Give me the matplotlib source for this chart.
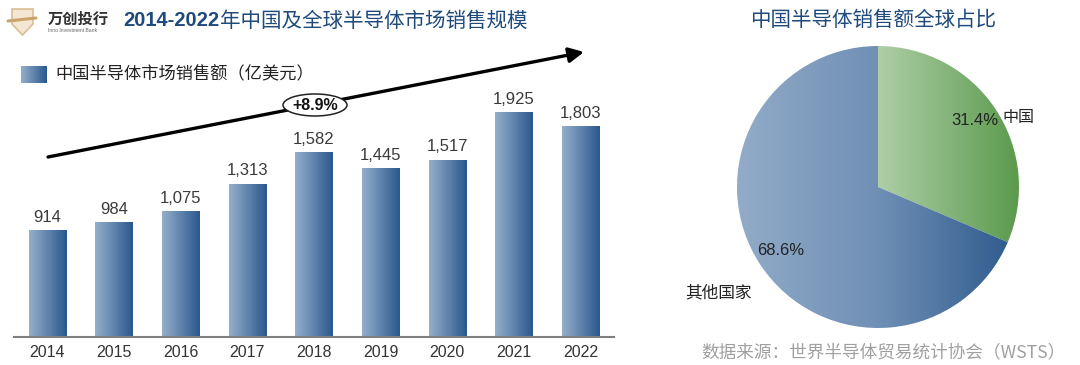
import numpy as np
import matplotlib
matplotlib.use("Agg")
import matplotlib.pyplot as plt
from matplotlib.colors import LinearSegmentedColormap
from matplotlib.patches import Ellipse, FancyArrowPatch, Polygon, Rectangle

# ---------------- data ----------------
years = ["2014", "2015", "2016", "2017", "2018", "2019", "2020", "2021", "2022"]
sales = [914, 984, 1075, 1313, 1582, 1445, 1517, 1925, 1803]
series_name = "中国半导体市场销售额（亿美元）"
cagr_label = "+8.9%"
pie_labels = ["中国", "其他国家"]
pie_shares = [31.4, 68.6]
title_num = "2014-2022"
title_cjk = "年中国及全球半导体市场销售规模"
pie_title = "中国半导体销售额全球占比"
source_text = "数据来源：世界半导体贸易统计协会（WSTS）"

CJK = ["Noto Sans CJK SC", "DejaVu Sans"]
NUM = ["Liberation Sans", "DejaVu Sans"]
TITLE_BLUE = "#1F4A7C"

W, H = 1080, 365
fig = plt.figure(figsize=(W / 100, H / 100), dpi=100)
fig.patch.set_facecolor("white")


def fr(x0, y0, x1, y1):
    """pixel box (top-left origin) -> figure fraction [l, b, w, h]"""
    return [x0 / W, 1 - y1 / H, (x1 - x0) / W, (y1 - y0) / H]


blue_cmap = LinearSegmentedColormap.from_list("b", ["#95AFCC", "#2A588D"])
pie_blue = LinearSegmentedColormap.from_list("pb", ["#92ABC8", "#6F8FB5", "#2C598C"])
pie_green = LinearSegmentedColormap.from_list("pg", ["#AECFA7", "#5B9A4D"])
grad = np.linspace(0, 1, 256).reshape(1, -1)

# ---------------- bar chart ----------------
ax = fig.add_axes(fr(14, 45, 614, 337))
x = np.arange(len(years))
bars = ax.bar(x, sales, width=0.56, facecolor="none", edgecolor="none", zorder=2)
for rect in bars:
    x0, w, h = rect.get_x(), rect.get_width(), rect.get_height()
    im = ax.imshow(grad, cmap=blue_cmap, extent=(x0, x0 + w, 0, h),
                   aspect="auto", interpolation="bicubic", zorder=2)
    im.set_clip_path(rect)
for xi, v in zip(x, sales):
    ax.annotate(f"{v:,}", (xi, v), xytext=(0, 4), textcoords="offset points",
                ha="center", va="bottom", fontsize=12, family=NUM, color="#3A3A3A")
ax.set_xlim(-0.5, len(years) - 0.5)
ax.set_ylim(0, 2500)
ax.set_xticks(x)
ax.set_xticklabels(years, fontsize=11.5, family=NUM, color="#333333")
ax.tick_params(axis="x", length=0, pad=6)
ax.set_yticks([])
for s in ["top", "right", "left"]:
    ax.spines[s].set_visible(False)
ax.spines["bottom"].set_color("#7F7F7F")
ax.spines["bottom"].set_linewidth(1.5)
ax.patch.set_alpha(0)

# ---------------- pie chart ----------------
pax = fig.add_axes(fr(737, 46, 1019, 328))
wedges, _ = pax.pie(pie_shares, startangle=90, counterclock=False,
                    wedgeprops=dict(facecolor="none", edgecolor="none"))
grads = [(pie_green, (0, 1, -1, 1)), (pie_blue, (-1, 1, -1, 1))]
for wdg, (cm, ext) in zip(wedges, grads):
    im = pax.imshow(grad, cmap=cm, extent=ext, aspect="auto",
                    interpolation="bicubic", zorder=1)
    im.set_clip_path(wdg)
pax.set_xlim(-1, 1)
pax.set_ylim(-1, 1)
pax.set_aspect("equal")
pax.axis("off")
pax.text(0.688, 0.475, f"{pie_shares[0]:.1f}%", ha="center", va="center",
         fontsize=12, family=NUM, color="#222222")
pax.text(0.885, 0.49, pie_labels[0], ha="left", va="center",
         fontsize=11.5, family=CJK, color="#222222")
pax.text(-0.688, -0.447, f"{pie_shares[1]:.1f}%", ha="center", va="center",
         fontsize=12, family=NUM, color="#222222")
pax.text(-1.128, -0.752, pie_labels[1], ha="center", va="center",
         fontsize=12, family=CJK, color="#222222")

# ---------------- overlay (titles, arrow, legend, logo) ----------------
ov = fig.add_axes([0, 0, 1, 1], zorder=5)
ov.set_xlim(0, W)
ov.set_ylim(H, 0)
ov.axis("off")
ov.patch.set_alpha(0)

# logo
shield = Polygon([[12, 9], [33, 9], [33, 24], [22.5, 35], [12, 24]], closed=True,
                 facecolor="#F3E7D3", edgecolor="#D8BE93", lw=1.2)
ov.add_patch(shield)
ov.plot([8, 36], [21, 18], color="#C9A36A", lw=2.2, solid_capstyle="round")
ov.text(48, 19, "万创投行", ha="left", va="center", fontsize=11, family=CJK,
        fontweight="bold", color="#333333")
ov.text(48, 31, "Inno Investment Bank", ha="left", va="center", fontsize=3.6,
        family=NUM, color="#666666")

# titles
t1 = ov.text(123, 21, title_num, ha="left", va="center", fontsize=14.5,
             family=["Liberation Sans", "DejaVu Sans"], fontweight="bold", color=TITLE_BLUE)
fig.canvas.draw()
bb = t1.get_window_extent(fig.canvas.get_renderer())
x_after = bb.x1 / fig.dpi * 100 * (W / (fig.get_figwidth() * 100)) + 1
ov.text(x_after, 21, title_cjk, ha="left", va="center", fontsize=14.8,
        family=CJK, color=TITLE_BLUE)
ov.text(873, 20, pie_title, ha="center", va="center", fontsize=14.8,
        family=CJK, color=TITLE_BLUE)

# legend
leg_rect = Rectangle((21, 66), 26, 17, facecolor="none", edgecolor="none")
ov.add_patch(leg_rect)
im = ov.imshow(grad, cmap=blue_cmap, extent=(21, 47, 83, 66), aspect="auto",
               interpolation="bicubic")
im.set_clip_path(leg_rect)
ov.set_xlim(0, W)
ov.set_ylim(H, 0)
ov.text(55, 74, series_name, ha="left", va="center", fontsize=12.4,
        family=CJK, color="#222222")

# growth arrow
arr = FancyArrowPatch((48, 157), (584, 52), arrowstyle="-|>,head_length=9,head_width=4.5",
                      color="black", lw=2.4, mutation_scale=1, shrinkA=0, shrinkB=0)
ov.add_patch(arr)
ell = Ellipse((315, 105), 64, 22, facecolor="white", edgecolor="#222222", lw=1.1, zorder=6)
ov.add_patch(ell)
ov.text(315, 105, cagr_label, ha="center", va="center", fontsize=11.5,
        family=NUM, fontweight="bold", color="#111111", zorder=7)

# source
ov.text(1066, 352, source_text, ha="right", va="center", fontsize=12.7,
        family=CJK, color="#A0A0A0")

fig.savefig("out.png", dpi=100, facecolor="white")
